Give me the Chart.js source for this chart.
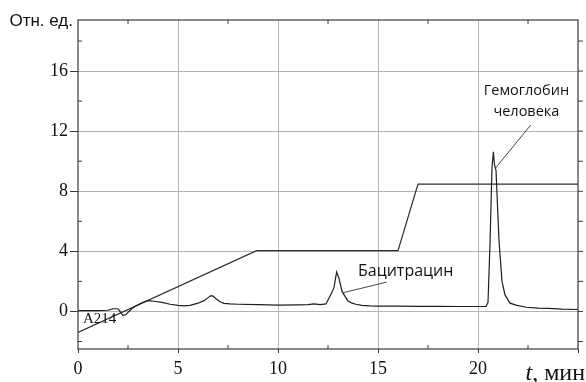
<!DOCTYPE html>
<html>
<head>
<meta charset="utf-8">
<script src="https://cdn.jsdelivr.net/npm/chart.js@4"></script>
<style>
  html, body { margin: 0; padding: 0; background: #fff; }
  #chart { display: block; }
</style>
</head>
<body>
<canvas id="chart" width="586" height="382"></canvas>
<script>
// хроматограмма (A214), отн. ед.
const chromTime = [0, 0.5, 1.0, 1.5, 1.75, 2.0, 2.1, 2.25, 2.4, 2.55, 2.75, 3.0, 3.25, 3.5, 3.8, 4.2, 4.6, 5.0, 5.3, 5.6, 6.0, 6.3, 6.5, 6.65, 6.75, 6.9, 7.1, 7.3, 7.6, 8, 9, 10, 11, 11.5, 11.8, 12.1, 12.4, 12.55, 12.68, 12.8, 12.93, 13.05, 13.2, 13.35, 13.5, 13.7, 13.9, 14.2, 14.6, 15, 16, 17, 18, 19, 20, 20.4, 20.5, 20.6, 20.7, 20.77, 20.82, 20.9, 21.05, 21.2, 21.35, 21.6, 21.9, 22.4, 23, 23.5, 24.2, 25];
const chromSignal = [0.05, 0.05, 0.06, 0.08, 0.18, 0.18, 0.0, -0.27, -0.2, 0.0, 0.25, 0.45, 0.6, 0.72, 0.68, 0.6, 0.48, 0.4, 0.37, 0.4, 0.55, 0.72, 0.92, 1.05, 1.02, 0.85, 0.64, 0.54, 0.5, 0.48, 0.45, 0.42, 0.44, 0.46, 0.5, 0.45, 0.5, 0.9, 1.22, 1.6, 2.62, 2.2, 1.35, 1.0, 0.7, 0.55, 0.48, 0.4, 0.37, 0.36, 0.35, 0.34, 0.34, 0.33, 0.33, 0.34, 0.6, 4.5, 9.6, 10.62, 9.8, 9.4, 4.7, 2.0, 1.1, 0.55, 0.42, 0.28, 0.22, 0.2, 0.15, 0.13];

// градиент
const gradTime = [0, 8.93, 16, 17, 25];
const gradLevel = [-1.4, 4.05, 4.05, 8.47, 8.47];

const xLabeled = [0, 5, 10, 15, 20];
const yLabeled = [0, 4, 8, 12, 16];

const toPoints = (xs, ys) => xs.map((x, i) => ({ x: x, y: ys[i] }));

const serif = '"Liberation Serif", "Times New Roman", serif';
const gridColor = '#b4b4b4';
const frameColor = '#3a3a3a';

const extras = {
  id: 'extras',
  afterDraw(chart) {
    const ctx = chart.ctx;
    const a = chart.chartArea;
    const xs = chart.scales.x, ys = chart.scales.y;
    ctx.save();

    // рамка
    ctx.strokeStyle = frameColor;
    ctx.lineWidth = 1.2;
    ctx.strokeRect(a.left, a.top, a.right - a.left, a.bottom - a.top);

    // мелкие засечки
    ctx.lineWidth = 1;
    ctx.beginPath();
    for (let v = 2.5; v < 25; v += 5) {
      const px = xs.getPixelForValue(v);
      ctx.moveTo(px, a.bottom); ctx.lineTo(px, a.bottom - 4);
      ctx.moveTo(px, a.top); ctx.lineTo(px, a.top + 4);
    }
    for (let v = -2; v <= 18; v += 2) {
      const py = ys.getPixelForValue(v);
      if (v % 4 !== 0) {
        ctx.moveTo(a.left, py); ctx.lineTo(a.left + 4, py);
      }
      ctx.moveTo(a.right, py); ctx.lineTo(a.right + 5, py);
    }
    ctx.stroke();

    // выноски
    ctx.strokeStyle = '#333';
    ctx.lineWidth = 0.9;
    ctx.beginPath();
    ctx.moveTo(xs.getPixelForValue(13.27), ys.getPixelForValue(1.25));
    ctx.lineTo(xs.getPixelForValue(15.43), ys.getPixelForValue(1.95));
    ctx.moveTo(xs.getPixelForValue(20.85), ys.getPixelForValue(9.5));
    ctx.lineTo(xs.getPixelForValue(22.63), ys.getPixelForValue(12.4));
    ctx.stroke();

    ctx.fillStyle = '#111';
    ctx.textBaseline = 'alphabetic';
    ctx.font = '16px "Open Sans", sans-serif';
    ctx.textAlign = 'left';
    ctx.fillText('Бацитрацин', xs.getPixelForValue(14.0), ys.getPixelForValue(2.33));
    ctx.font = '14.5px "Open Sans", sans-serif';
    ctx.textAlign = 'center';
    ctx.fillText('Гемоглобин', xs.getPixelForValue(22.42), ys.getPixelForValue(14.4));
    ctx.fillText('человека', xs.getPixelForValue(22.42), ys.getPixelForValue(13.0));

    ctx.font = '15px ' + serif;
    ctx.textAlign = 'left';
    ctx.fillText('A214', a.left + 5, ys.getPixelForValue(-0.8));

    // подписи осей
    ctx.font = '17px "Liberation Sans", Arial, sans-serif';
    ctx.textAlign = 'right';
    ctx.fillText('Отн. ед.', a.left - 5, a.top + 6);

    ctx.textAlign = 'right';
    ctx.font = '24px ' + serif;
    const rest = ', мин';
    const restW = ctx.measureText(rest).width;
    ctx.fillText(rest, 585, 380);
    ctx.font = 'italic 24px ' + serif;
    ctx.fillText('t', 585 - restW, 380);

    ctx.restore();
  }
};

const chart = new Chart(document.getElementById('chart'), {
  type: 'scatter',
  data: {
    datasets: [
      {
        label: 'A214',
        data: toPoints(chromTime, chromSignal),
        showLine: true,
        borderColor: '#1e1e1e',
        borderWidth: 1.2,
        pointRadius: 0,
        tension: 0
      },
      {
        label: 'Градиент',
        data: toPoints(gradTime, gradLevel),
        showLine: true,
        borderColor: '#2e2e2e',
        borderWidth: 1.2,
        pointRadius: 0,
        tension: 0
      }
    ]
  },
  options: {
    responsive: false,
    animation: false,
    layout: { padding: { top: 20, right: 8, left: 0, bottom: 0 } },
    plugins: {
      legend: { display: false },
      tooltip: { enabled: false }
    },
    scales: {
      x: {
        type: 'linear',
        min: 0,
        max: 25,
        afterFit: (s) => { s.height = 33; },
        border: { display: false },
        grid: {
          color: (c) => (c.tick && c.tick.value > 0 && c.tick.value < 25 && c.tick.value % 5 === 0) ? gridColor : 'rgba(0,0,0,0)',
          tickColor: (c) => (c.tick && c.tick.value % 5 === 0) ? frameColor : 'rgba(0,0,0,0)',
          tickLength: 4,
          lineWidth: 1
        },
        ticks: {
          stepSize: 2.5,
          autoSkip: false,
          maxRotation: 0,
          padding: 5,
          color: '#111',
          font: { family: serif, size: 18 },
          callback: (v) => xLabeled.includes(v) ? String(v) : ''
        }
      },
      y: {
        type: 'linear',
        min: -2.5,
        max: 19.4,
        afterFit: (s) => { s.width = 78; },
        border: { display: false },
        grid: {
          color: (c) => (c.tick && yLabeled.includes(c.tick.value)) ? gridColor : 'rgba(0,0,0,0)',
          tickColor: (c) => (c.tick && yLabeled.includes(c.tick.value)) ? frameColor : 'rgba(0,0,0,0)',
          tickLength: 8,
          lineWidth: 1
        },
        ticks: {
          stepSize: 2,
          autoSkip: false,
          padding: 2,
          color: '#111',
          font: { family: serif, size: 18 },
          callback: (v) => yLabeled.includes(v) ? String(v) : ''
        }
      }
    }
  },
  plugins: [extras]
});
</script>
</body>
</html>
